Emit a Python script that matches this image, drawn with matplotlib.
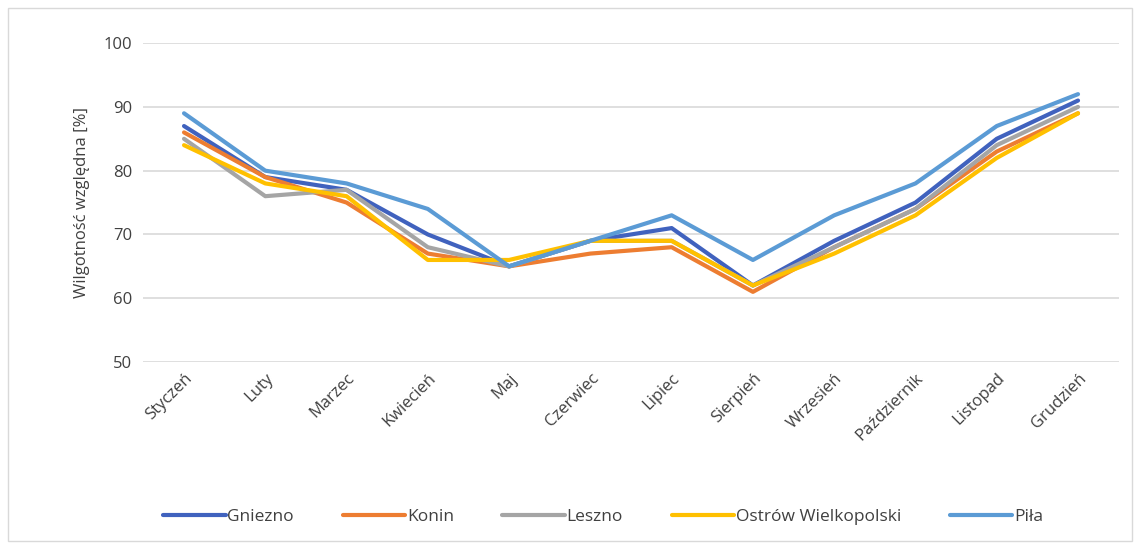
import matplotlib.pyplot as plt
from matplotlib.patches import Rectangle

plt.rcParams['font.family'] = ['Open Sans', 'DejaVu Sans']

months = ["Styczeń", "Luty", "Marzec", "Kwiecień", "Maj", "Czerwiec",
          "Lipiec", "Sierpień", "Wrzesień", "Październik", "Listopad", "Grudzień"]

gniezno = [87, 79, 77, 70, 65, 69, 71, 62, 69, 75, 85, 91]
konin = [86, 79, 75, 67, 65, 67, 68, 61, 68, 74, 83, 89]
leszno = [85, 76, 77, 68, 65, 69, 69, 62, 68, 74, 84, 90]
ostrow = [84, 78, 76, 66, 66, 69, 69, 62, 67, 73, 82, 89]
pila = [89, 80, 78, 74, 65, 69, 73, 66, 73, 78, 87, 92]

series = [("Gniezno", gniezno, "#4062BE"),
          ("Konin", konin, "#ED7D31"),
          ("Leszno", leszno, "#A5A5A5"),
          ("Ostrów Wielkopolski", ostrow, "#FFC000"),
          ("Piła", pila, "#5B9BD5")]

fig = plt.figure(figsize=(11.38, 5.46), dpi=100)
ax = fig.add_axes([0.126, 0.337, 0.857, 0.584])

x = list(range(len(months)))
for name, vals, col in series:
    ax.plot(x, vals, color=col, linewidth=3.0, label=name, solid_capstyle='round')

ax.set_ylim(50, 100)
ax.set_yticks(range(50, 101, 10))
ax.set_xlim(-0.5, len(months) - 0.5)
ax.set_xticks(x)
ax.set_xticklabels(months, rotation=45, ha='right', rotation_mode='anchor', fontsize=12, color='#404040')
ax.tick_params(axis='y', labelsize=12, labelcolor='#404040', length=0, pad=8)
ax.tick_params(axis='x', length=0, pad=6)
ax.grid(axis='y', color='#D9D9D9', linewidth=1.2)
ax.set_axisbelow(True)
for s in ax.spines.values():
    s.set_visible(False)
ax.set_ylabel("Wilgotność względna [%]", fontsize=12, color='#404040', labelpad=10)

fig.legend(loc='center', bbox_to_anchor=(0.53, 0.053), ncol=5, frameon=False,
           fontsize=12.5, handlelength=3.6, handletextpad=0.1, columnspacing=2.8,
           labelcolor='#404040')

fig.patches.append(Rectangle((0.007, 0.01), 0.988, 0.975, transform=fig.transFigure,
                             fill=False, edgecolor='#D9D9D9', linewidth=1))

fig.savefig("out.png", dpi=100)
